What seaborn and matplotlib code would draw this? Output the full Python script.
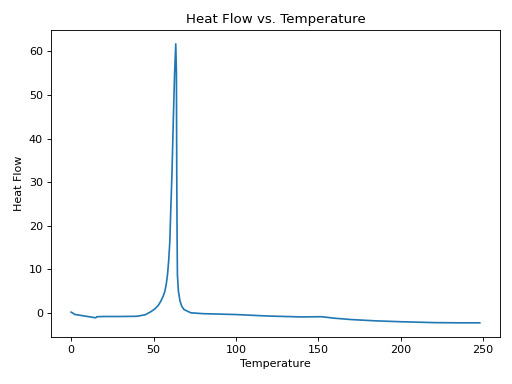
import matplotlib
matplotlib.use('Agg')
import matplotlib.pyplot as plt
import pandas as pd
import seaborn as sns

# Values
temperature = [0, 1, 2, 5, 10, 15, 15.6, 20, 30, 40, 45, 48.4, 51, 53, 54.4, 55.8,
               56.9, 57.8, 58.5, 59.2, 59.9, 60.5, 61.2, 62.0, 62.8, 63.5, 63.9,
               64.1, 64.3, 64.5, 65.1, 66.1, 67.2, 68.5, 72.6, 80, 100, 120, 140,
               152, 160, 170, 185, 200, 220, 235, 248]
heat_flow = [0.2, 0.0, -0.3, -0.5, -0.8, -1.1, -0.85, -0.8, -0.8, -0.75, -0.4, 0.3,
             1.0, 1.8, 2.7, 3.8, 5.0, 6.8, 8.8, 12.0, 16.4, 24, 32, 44, 55, 61.7,
             55, 31.6, 18, 8.8, 5.0, 2.7, 1.5, 0.8, 0.05, -0.15, -0.35, -0.7, -0.9,
             -0.85, -1.2, -1.5, -1.8, -2.0, -2.2, -2.25, -2.25]

df = pd.DataFrame({'Temperature': temperature, 'Heat Flow': heat_flow})

plt.figure(figsize=(6.4, 4.8), dpi=80)
sns.lineplot(data=df, x='Temperature', y='Heat Flow', sort=False)
plt.title('Heat Flow vs. Temperature')
# placement of the axes as in the reference
plt.subplots_adjust(left=0.099, right=0.977, top=0.922, bottom=0.123)
plt.savefig('out.png', dpi=80)
